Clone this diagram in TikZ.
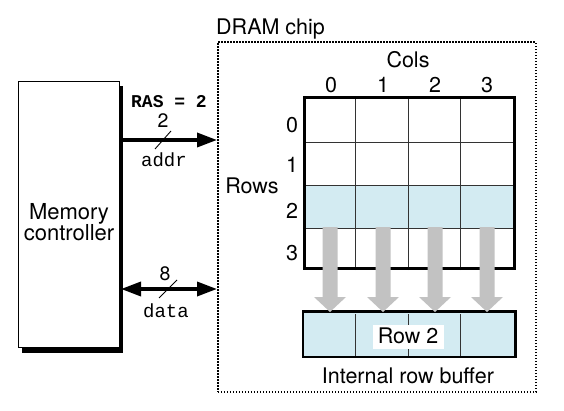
\documentclass[tikz,border=0pt]{standalone}
\usepackage{fontspec}
\setmainfont{TeX Gyre Heros}
\setmonofont{Liberation Mono}
\usetikzlibrary{arrows.meta}
\definecolor{cellblue}{HTML}{D3EBF2}
\definecolor{arrgray}{HTML}{C2C2C2}
\begin{document}
\begin{tikzpicture}[x=1pt,y=1pt,
  lbl/.style={font=\fontsize{21.5}{22}\selectfont, inner sep=0pt, anchor=base},
  mono/.style={font=\ttfamily\fontsize{19}{19}\selectfont, inner sep=0pt, anchor=base},
  bus/.style={line width=3.5pt},
  busarrow/.style={-{Triangle[length=20pt,width=14pt]}},
  slash/.style={line width=0.9pt},
  thinline/.style={line width=0.8pt, draw=black!80},
  gridborder/.style={line width=2.7pt},
  bigarrow/.style={fill=arrgray, draw=none}]
\useasboundingbox (0,0) rectangle (564,410);
% Memory controller
\fill (22,57) rectangle (123,324);
\node[draw, line width=0.9pt, fill=white, minimum width=101pt, minimum height=266pt, inner sep=0pt, anchor=south west] (mc) at (18,62) {};
\node[lbl, font=\fontsize{22}{22}\selectfont] (mctext1) at (69,191) {Memory};
\node[lbl, font=\fontsize{22}{22}\selectfont] (mctext2) at (69,170) {controller};
% DRAM chip
\node[draw, line width=1.6pt, dash pattern=on 1.4pt off 1.6pt, minimum width=318pt, minimum height=350pt, inner sep=0pt, anchor=south west] (dram) at (217,17) {};
\node[lbl, anchor=base west] (dramlbl) at (216,375) {DRAM chip};
% connectors
\coordinate (addrS) at (119,270);
\coordinate (addrE) at (dram.west |- addrS);
\draw[bus, busarrow] (addrS) -- (addrE);
\coordinate (dataS) at (121,121);
\coordinate (dataE) at (dram.west |- dataS);
\draw[bus, {Triangle[length=20pt,width=14pt]}-{Triangle[length=20pt,width=14pt]}] (dataS) -- (dataE);
\draw[slash] (155,261) -- (171,279);
\draw[slash] (159,112) -- (177,130);
\node[mono, font=\ttfamily\bfseries\fontsize{18}{18}\selectfont] (ras) at (169,302) {RAS = 2};
\node[lbl, font=\fontsize{19.5}{20}\selectfont] (n2) at (163,282) {2};
\node[mono] (addr) at (164,243) {addr};
\node[lbl, font=\fontsize{19.5}{20}\selectfont] (n8) at (165,130) {8};
\node[mono] (data) at (166,93) {data};
% grid
\fill[cellblue] (303,182) rectangle (513,225);
\foreach \x in {355.5,408,460.5} \draw[thinline] (\x,140) -- (\x,311);
\foreach \y in {182,225,268} \draw[thinline] (303,\y) -- (513,\y);
\node[draw, gridborder, minimum width=210pt, minimum height=171pt, inner sep=0pt, anchor=south west] (grid) at (303,140) {};
% buffer
\node[gridborder, fill=cellblue, minimum width=210pt, minimum height=43pt, inner sep=0pt, anchor=south west] (buf) at (303,53) {};
\foreach \x in {355.5,408,460.5} \draw[thinline] (\x,53) -- (\x,96);
\draw[gridborder] (buf.south west) rectangle (buf.north east);
\node[fill=white, inner sep=0pt, minimum width=71pt, minimum height=24pt] (rowbox) at (408,73.5) {};
\node[lbl] (row2) at (408,67) {Row 2};
\node[lbl] (irb) at (408,27) {Internal row buffer};
% gray arrows
\foreach \cx in {330,383,435,487}
  \fill[bigarrow] (\cx-7.5,183) -- (\cx+7.5,183) -- (\cx+7.5,113) -- (\cx+16,113) -- (\cx,98) -- (\cx-16,113) -- (\cx-7.5,113) -- cycle;
% labels
\node[lbl] (cols) at (408,342) {Cols};
\node[lbl] (c0) at (331,317) {0};
\node[lbl] (c1) at (383,317) {1};
\node[lbl] (c2) at (435,317) {2};
\node[lbl] (c3) at (487,317) {3};
\node[lbl] (r0) at (292,277) {0};
\node[lbl] (r1) at (292,237) {1};
\node[lbl] (r2) at (292,192) {2};
\node[lbl] (r3) at (292,150) {3};
\node[lbl] (rows) at (252,216) {Rows};
\end{tikzpicture}
\end{document}
